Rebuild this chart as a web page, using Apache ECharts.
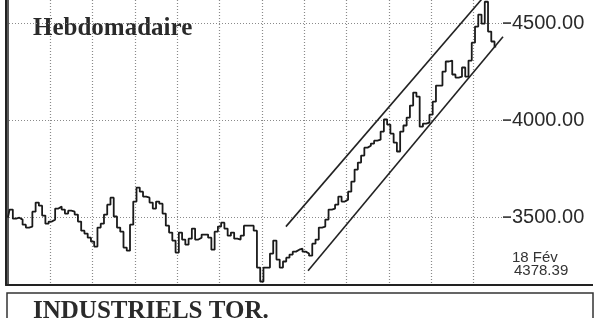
<!DOCTYPE html>
<html><head><meta charset="utf-8">
<script src="https://cdn.jsdelivr.net/npm/echarts@6/dist/echarts.min.js"></script>
<style>html,body{margin:0;padding:0;background:#fff}#c{width:595px;height:318px}</style>
</head><body><div id="c"></div>
<script>
// Weekly closes (index = week number)
const weeklyValues = [
3497,3539,3492,3497,3487,3461,3446,3451,3528,3575,
3559,3508,3466,3477,3487,3544,3554,3539,3518,3533,
3528,3513,3477,3430,3415,3394,3374,3348,3446,3466,
3513,3564,3600,3503,3446,3425,3343,3327,3461,3580,
3652,3631,3606,3600,3575,3544,3580,3569,3518,3456,
3420,3379,3317,3420,3384,3358,3389,3441,3384,3394,
3410,3410,3394,3332,3425,3451,3471,3441,3404,3420,
3389,3384,3404,3456,3456,3456,3430,3240,3168,3240,
3240,3312,3379,3281,3240,3271,3291,3307,3322,3332,
3337,3322,3312,3301,3363,3384,3446,3451,3487,3539,
3544,3564,3606,3580,3590,3631,3683,3745,3781,3817,
3858,3868,3879,3894,3899,3941,4003,3977,3930,3884,
3838,3941,3972,4013,4075,4142,4121,3966,3982,3987,
4028,4095,4178,4178,4250,4302,4307,4235,4219,4224,
4271,4224,4307,4399,4482,4544,4497,4610,4456,4405,
4378.39
];
// Trend channel endpoints [week, value]
const upperChannel = [[85.4, 3451], [147, 4651]];
const lowerChannel = [[92.2, 3224], [152.1, 4430]];
// Axis ticks
const yTicks = [3500, 4000, 4500];
const xGridWeeks = [13, 26, 39, 52, 65, 78, 91, 104, 117, 130, 143];
const titleText = 'Hebdomadaire';
const lastDate = '18 Fév';
const lastValue = '4378.39';
const panelTitle = 'INDUSTRIELS TOR.';

const ink = '#222';
const grid = {type: [1, 2], color: '#8a8a8a', width: 1.2};
const chart = echarts.init(document.getElementById('c'), null, {renderer: 'canvas'});
chart.setOption({
  animation: false,
  backgroundColor: '#fff',
  grid: {left: 6, right: 92, top: 0, bottom: 33, containLabel: false, outerBoundsMode: 'none'},
  xAxis: {
    type: 'value', min: -0.6, max: 152.1,
    axisLine: {show: true, lineStyle: {color: ink, width: 2}},
    axisTick: {show: false, customValues: xGridWeeks},
    axisLabel: {show: false},
    splitLine: {show: true, lineStyle: grid}
  },
  yAxis: [{
    type: 'value', position: 'right', min: 3150, max: 4619,
    axisLine: {show: true, lineStyle: {color: ink, width: 1.5}},
    axisTick: {show: false, customValues: yTicks},
    axisLabel: {show: true, customValues: yTicks, margin: 0, color: '#2a2a2a',
      fontFamily: 'Liberation Sans',
      formatter: v => '{t|}{v|' + Number(v).toFixed(2) + '}',
      rich: {
        t: {width: 8, height: 1.5, backgroundColor: '#222', verticalAlign: 'middle'},
        v: {fontSize: 20, fontFamily: 'Liberation Sans', color: '#2a2a2a', verticalAlign: 'middle', padding: [0, 0, 0, 1]}
      }},
    splitLine: {show: true, lineStyle: grid}
  }, {
    type: 'value', position: 'left', min: 3150, max: 4619,
    axisLine: {show: true, lineStyle: {color: ink, width: 2}},
    axisTick: {show: false}, axisLabel: {show: false}, splitLine: {show: false}
  }],
  series: [{
    type: 'line', data: weeklyValues.map((v, i) => [i, v]), showSymbol: false, step: 'middle',
    lineStyle: {color: '#1a1a1a', width: 1.8}, clip: true
  }, {
    type: 'line', data: upperChannel, showSymbol: false, lineStyle: {color: ink, width: 1.6}, clip: true
  }, {
    type: 'line', data: lowerChannel, showSymbol: false, lineStyle: {color: ink, width: 1.6}, clip: true
  }],
  graphic: [
    {type: 'text', left: 33, top: 16, style: {text: titleText, font: 'bold 25px "Liberation Serif"', fill: '#2a2a2a'}},
    {type: 'line', shape: {x1: 503, y1: 285, x2: 593, y2: 285}, style: {stroke: ink, lineWidth: 2}},
    {type: 'text', left: 512, top: 250, style: {text: lastDate, font: '15px "Liberation Sans"', fill: '#333'}},
    {type: 'text', left: 514, top: 263, style: {text: lastValue, font: '15px "Liberation Sans"', fill: '#333'}},
    {type: 'rect', shape: {x: 7, y: 293, width: 586, height: 40}, style: {fill: 'none', stroke: '#333', lineWidth: 1.5}},
    {type: 'text', left: 33, top: 299, style: {text: panelTitle, font: 'bold 25px "Liberation Serif"', fill: '#2a2a2a'}}
  ]
});
</script></body></html>
